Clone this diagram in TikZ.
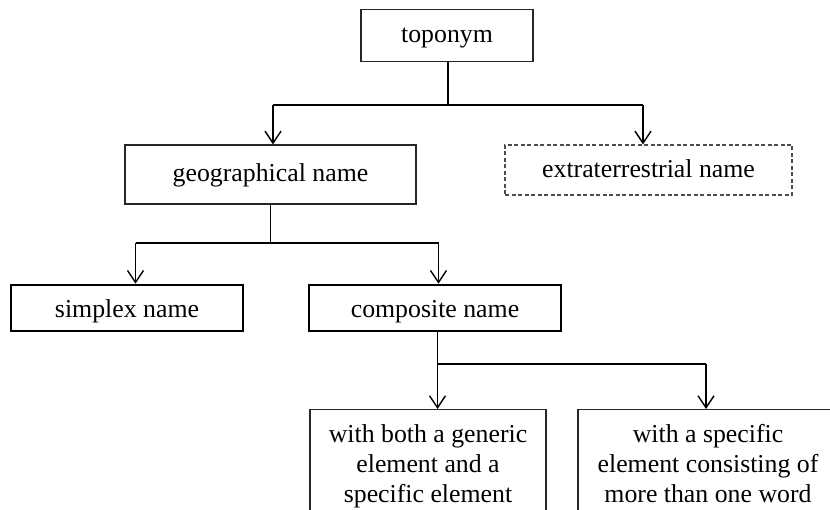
\documentclass[tikz,border=0pt]{standalone}
\usepackage{fontspec}
\setmainfont{Liberation Serif}
\usetikzlibrary{arrows.meta}
\begin{document}
\begin{tikzpicture}[x=1pt,y=-1pt,
  box/.style={draw=black!85, line width=1.2pt, inner sep=0pt, font=\fontsize{25.8}{30}\selectfont},
  one/.style={box, text height=20pt, text depth=5pt},
  thickbox/.style={box, draw=black, line width=2.6pt, text height=20pt, text depth=1pt},
  dashbox/.style={one, draw=black!70, dash pattern=on 4pt off 2.5pt},
  txtbox/.style={box, anchor=north, inner xsep=4pt, inner ysep=14.5pt, align=center},
  conn/.style={line width=1.4pt, black},
  arr/.style={conn, -{Straight Barb[length=12pt,width=16pt,line width=1.4pt]}}]
\clip (0,0) rectangle (830,510);
\fill[white] (0,0) rectangle (830,510);
% nodes
\node[one, minimum width=172pt, minimum height=52pt] (top) at (447,35.5) {toponym};
\node[one, minimum width=291pt, minimum height=59pt] (geo) at (270.5,174.5) {geographical name};
\node[dashbox, minimum width=287pt, minimum height=50pt] (ext) at (648.5,170) {extraterrestrial name};
\node[thickbox, minimum width=232pt, minimum height=46pt] (simp) at (127,308) {simplex name};
\node[thickbox, minimum width=252pt, minimum height=46pt] (comp) at (435,308) {composite name};
\node[txtbox, minimum width=236pt] (gen) at (428,409) {with both a generic\\element and a\\specific element};
\node[txtbox, minimum width=260pt] (spec) at (708,409) {with a specific\\element consisting of\\more than one word};
% junctions
\coordinate (j1) at (448,105);
\coordinate (j2) at (270.5,243);
\coordinate (j3) at (437.5,364);
% connectors
\draw[conn] (top.south -| j1) -- (j1);
\draw[conn] ([xshift=2.5pt]geo.north |- j1) -- ([xshift=-5.5pt]ext.north |- j1);
\draw[arr] ([xshift=2.5pt]geo.north |- j1) -- ([xshift=2.5pt]geo.north);
\draw[arr] ([xshift=-5.5pt]ext.north |- j1) -- ([xshift=-5.5pt]ext.north);
\draw[conn] (geo.south) -- (j2);
\draw[conn] ([xshift=8.5pt]simp.north |- j2) -- ([xshift=3.5pt]comp.north |- j2);
\draw[arr] ([xshift=8.5pt]simp.north |- j2) -- ([xshift=8.5pt]simp.north);
\draw[arr] ([xshift=3.5pt]comp.north |- j2) -- ([xshift=3.5pt]comp.north);
\draw[conn] (comp.south -| j3) -- (j3);
\draw[conn] (j3) -- ([xshift=-2pt]spec.north |- j3);
\draw[arr] (j3) -- (gen.north -| j3);
\draw[arr] ([xshift=-2pt]spec.north |- j3) -- ([xshift=-2pt]spec.north);
\end{tikzpicture}
\end{document}
